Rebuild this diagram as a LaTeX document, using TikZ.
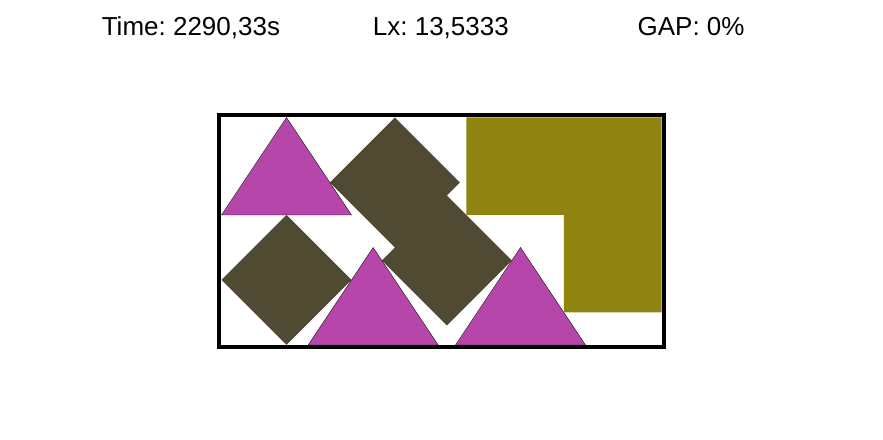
\documentclass[tikz,border=0pt]{standalone}
\usepackage{fontspec}
\setmainfont{Liberation Sans}
\usetikzlibrary{positioning}

\definecolor{trimagenta}{RGB}{183,70,170}
\definecolor{sqbrown}{RGB}{81,74,51}
\definecolor{lolive}{RGB}{143,132,15}

\begin{document}
\frenchspacing
\begin{tikzpicture}[
  x=16.25pt, y=16.25pt,
  font=\fontsize{13}{15}\selectfont,
  piece/.style={draw=black, line width=0.15pt},
  tri/.style={piece, fill=trimagenta},
  sq/.style={fill=sqbrown},
  lshape/.style={fill=lolive},
  strip/.style={draw=black, line width=2pt},
  stat/.style={anchor=base, inner sep=0pt}
]
\useasboundingbox (-6.815,-2.923) rectangle (20.354,10.615);

% header
\node[stat] (time) at (-0.94,9.51) {Time: 2290,33s};
\node[stat] (lx) at (6.75,9.51) {Lx: 13,5333};
\node[stat] (gap) at (14.45,9.51) {GAP: 0\%};

% pieces
\fill[lshape] (7.533,7) -- (13.54,7) -- (13.54,1) -- (10.533,1) -- (10.533,4) -- (7.533,4) -- cycle;
\filldraw[tri] (0,4) -- (4,4) -- (2,7) -- cycle;
\fill[sq] (0,2) -- (2,4) -- (4,2) -- (2,0) -- cycle;
% two squares side by side
\fill[sq] (3.333,5) -- (5.333,7) -- (7.333,5) -- (6.933,4.6) -- (8.933,2.6)
  -- (6.933,0.6) -- (4.933,2.6) -- (5.333,3) -- cycle;
\filldraw[tri] (2.667,0) -- (6.667,0) -- (4.667,3) -- cycle;
\filldraw[tri] (7.2,0) -- (11.2,0) -- (9.2,3) -- cycle;

% strip
\draw[strip] (-0.07,-0.07) rectangle (13.603,7.07);
\end{tikzpicture}
\end{document}
